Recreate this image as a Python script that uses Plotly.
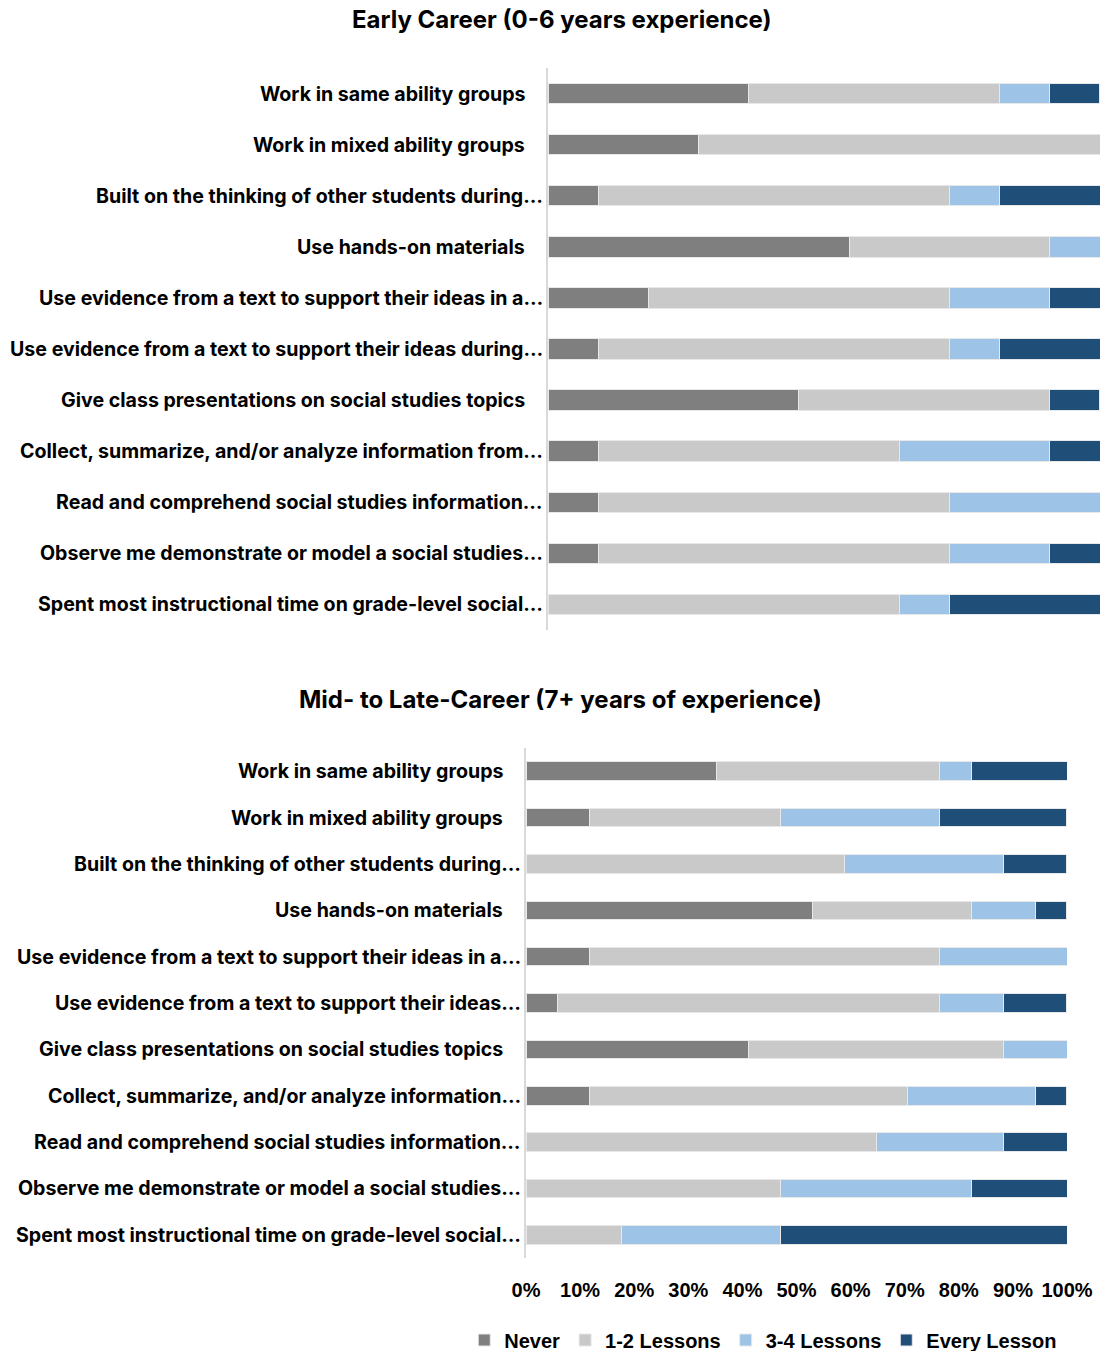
import plotly.graph_objects as go

# Response categories and colours
levels = ["Never", "1-2 Lessons", "3-4 Lessons", "Every Lesson"]
level_colors = ["#7f7f7f", "#c9c9c9", "#9dc3e6", "#1f4e79"]

# Early career panel (0-6 years)
early_items = [
    "Work in same ability groups",
    "Work in mixed ability groups",
    "Built on the thinking of other students during…",
    "Use hands-on materials",
    "Use evidence from a text to support their ideas in a…",
    "Use evidence from a text to support their ideas during…",
    "Give class presentations on social studies topics",
    "Collect, summarize, and/or analyze information from…",
    "Read and comprehend social studies information…",
    "Observe me demonstrate or model a social studies…",
    "Spent most instructional time on grade-level social…",
]
early_never = [36.36, 27.27, 9.09, 54.55, 18.18, 9.09, 45.45, 9.09, 9.09, 9.09, 0]
early_12 = [45.45, 72.73, 63.64, 36.36, 54.55, 63.64, 45.45, 54.55, 63.64, 63.64, 63.64]
early_34 = [9.09, 0, 9.09, 9.09, 18.18, 9.09, 0, 27.27, 27.27, 18.18, 9.09]
early_every = [9.09, 0, 18.18, 0, 9.09, 18.18, 9.09, 9.09, 0, 9.09, 27.27]

# Mid- to late-career panel (7+ years)
late_items = [
    "Work in same ability groups",
    "Work in mixed ability groups",
    "Built on the thinking of other students during…",
    "Use hands-on materials",
    "Use evidence from a text to support their ideas in a…",
    "Use evidence from a text to support their ideas…",
    "Give class presentations on social studies topics",
    "Collect, summarize, and/or analyze information…",
    "Read and comprehend social studies information…",
    "Observe me demonstrate or model a social studies…",
    "Spent most instructional time on grade-level social…",
]
late_never = [35.29, 11.76, 0, 52.94, 11.76, 5.88, 41.18, 11.76, 0, 0, 0]
late_12 = [41.18, 35.29, 58.82, 29.41, 64.71, 70.59, 47.06, 58.82, 64.71, 47.06, 17.65]
late_34 = [5.88, 29.41, 29.41, 11.76, 23.53, 11.76, 11.76, 23.53, 23.53, 35.29, 29.41]
late_every = [17.65, 23.53, 11.76, 5.88, 0, 11.76, 0, 5.88, 11.76, 17.65, 52.94]

x_ticks = [0, 10, 20, 30, 40, 50, 60, 70, 80, 90, 100]
x_tick_text = ["0%", "10%", "20%", "30%", "40%", "50%", "60%", "70%", "80%", "90%", "100%"]

W, H = 1103, 1351
LABEL_FONT = dict(family="Inter, Lato, sans-serif", size=19.6, color="#000000", weight="bold")
TITLE_FONT = dict(family="Inter, Lato, sans-serif", size=24, color="#000000", weight="bold")
NARROW_FONT = dict(family="Liberation Sans, Arial, sans-serif", size=20, color="#000000",
                   weight="bold")

fig = go.Figure()

panels = [
    (early_items, [early_never, early_12, early_34, early_every], "x", "y", False),
    (late_items, [late_never, late_12, late_34, late_every], "x2", "y2", True),
]
for items, series, xa, ya, show in panels:
    for name, color, vals in zip(levels, level_colors, series):
        fig.add_trace(go.Bar(
            y=items, x=vals, name=name, orientation="h",
            marker=dict(color=color, line=dict(color="#e8e8e8", width=1)),
            xaxis=xa, yaxis=ya, showlegend=show,
        ))


def px_x(p):
    return p / W


def px_y(p):
    return 1 - p / H


axis_common = dict(showgrid=False, zeroline=False, fixedrange=True)
fig.update_layout(
    width=W, height=H,
    margin=dict(l=0, r=0, t=0, b=0, autoexpand=False),
    paper_bgcolor="white", plot_bgcolor="white",
    barmode="stack", bargap=0.6,
    xaxis=dict(domain=[px_x(548), px_x(1100)], range=[0, 100], showticklabels=False,
               showline=False, anchor="y", **axis_common),
    yaxis=dict(domain=[px_y(630), px_y(68)], autorange="reversed", showticklabels=False,
               showline=True, linecolor="#d9d9d9", linewidth=2, anchor="x", **axis_common),
    xaxis2=dict(domain=[px_x(526), px_x(1067)], range=[0, 100], tickvals=x_ticks,
                ticktext=x_tick_text, tickfont=NARROW_FONT, ticklabelstandoff=18,
                showline=False, anchor="y2", **axis_common),
    yaxis2=dict(domain=[px_y(1258), px_y(748)], autorange="reversed", showticklabels=False,
                showline=True, linecolor="#d9d9d9", linewidth=2, anchor="x2", **axis_common),
    legend=dict(orientation="h", x=0.692, xanchor="center", y=px_y(1340), yanchor="middle",
                font=NARROW_FONT, itemwidth=30, traceorder="normal",
                bgcolor="rgba(0,0,0,0)"),
)

# Category labels: full labels sit a little left of the axis, truncated ones run up to it
annotations = []
for items, xref, yref in [(early_items, "x domain", "y"), (late_items, "x2 domain", "y2")]:
    for item in items:
        shift = -3 if item.endswith("…") else -21
        annotations.append(dict(
            x=0, y=item, xref=xref, yref=yref, text=item,
            xanchor="right", yanchor="middle", xshift=shift, showarrow=False,
            font=LABEL_FONT,
        ))

annotations.append(dict(x=px_x(562), y=px_y(19), xref="paper", yref="paper",
                        text="Early Career (0-6 years experience)", showarrow=False,
                        xanchor="center", yanchor="middle", font=TITLE_FONT))
annotations.append(dict(x=px_x(560), y=px_y(700), xref="paper", yref="paper",
                        text="Mid- to Late-Career (7+ years of experience)", showarrow=False,
                        xanchor="center", yanchor="middle", font=TITLE_FONT))
fig.update_layout(annotations=annotations)

fig.write_html("out.html")
